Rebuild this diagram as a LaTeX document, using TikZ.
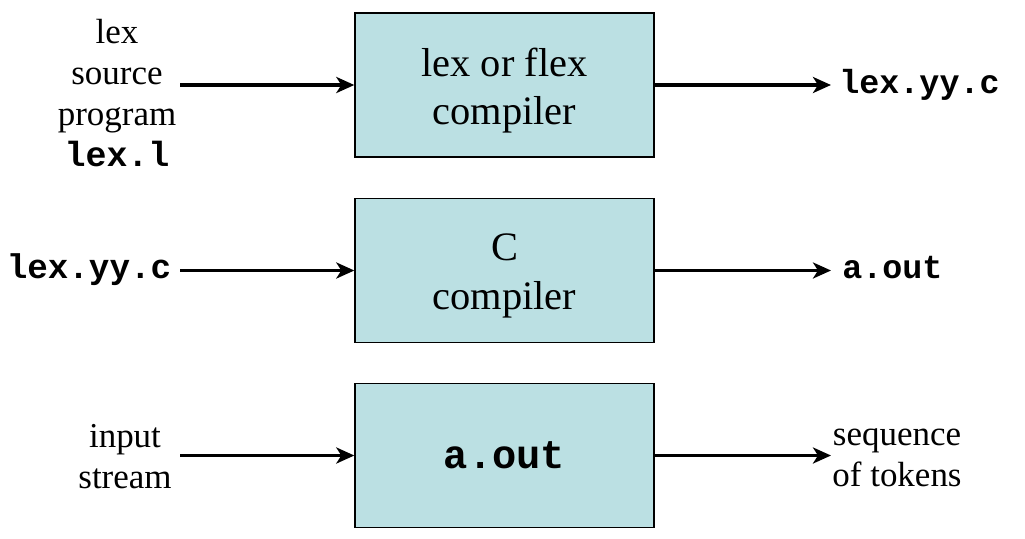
\documentclass[tikz,border=0pt]{standalone}
\usepackage{fontspec}
\setmainfont{Liberation Serif}
\setmonofont{Liberation Mono}
\usetikzlibrary{arrows.meta}
\definecolor{boxfill}{RGB}{187,224,227}
\newcommand{\boxlines}[1]{\raisebox{-9.3pt}[0pt][0pt]{\parbox{5cm}{\centering #1}}}
\begin{document}
\begin{tikzpicture}[x=0.02cm,y=-0.02cm,
    stage/.style={rectangle,draw,line width=0.8pt,fill=boxfill,minimum width=5.98cm,minimum height=2.88cm,align=center,font=\fontsize{23}{27.5}\selectfont},
    side/.style={align=center,inner sep=0pt,font=\fontsize{19.9}{23.3}\selectfont},
    flow/.style={-{Stealth[length=0.36cm,width=0.32cm,inset=0.1cm]},line width=2.1pt}]
    \useasboundingbox (0,0) rectangle (1025,538);
    % boxes
    \node[stage] at (504.5,85) (lexc) {\boxlines{lex or flex\\compiler}};
    \node[stage] at (504.5,270.5) (ccomp) {\boxlines{C\\compiler}};
    \node[stage] at (504.5,455.5) (prog) {\fontsize{23}{27}\ttfamily\bfseries a.out};
    % labels
    \node[side] at (117,93) (lexsrc) {lex\\source\\program\\{\ttfamily\bfseries lex.l}};
    \node[side,anchor=west] at (839,85) (lexout) {\fontsize{19}{23}\ttfamily\bfseries lex.yy.c};
    \node[side] at (89,270) (lexin) {\fontsize{19.5}{23}\ttfamily\bfseries lex.yy.c};
    \node[side,anchor=west] at (842,268) (aout) {\fontsize{19}{23}\ttfamily\bfseries a.out};
    \node[side] at (125,457) (instream) {input\\stream};
    \node[side] at (897,458) (tokens) {sequence\\of tokens};
    % arrow ends
    \coordinate (in1) at (180,85);
    \coordinate (in2) at (180,270.5);
    \coordinate (in3) at (180,455.5);
    \coordinate (out1) at (831,85);
    \coordinate (out2) at (831,270.5);
    \coordinate (out3) at (831,455.5);
    \draw[flow] (in1) -- (lexc);
    \draw[flow] (lexc) -- (out1);
    \draw[flow] (in2) -- (ccomp);
    \draw[flow] (ccomp) -- (out2);
    \draw[flow] (in3) -- (prog);
    \draw[flow] (prog) -- (out3);
\end{tikzpicture}
\end{document}
